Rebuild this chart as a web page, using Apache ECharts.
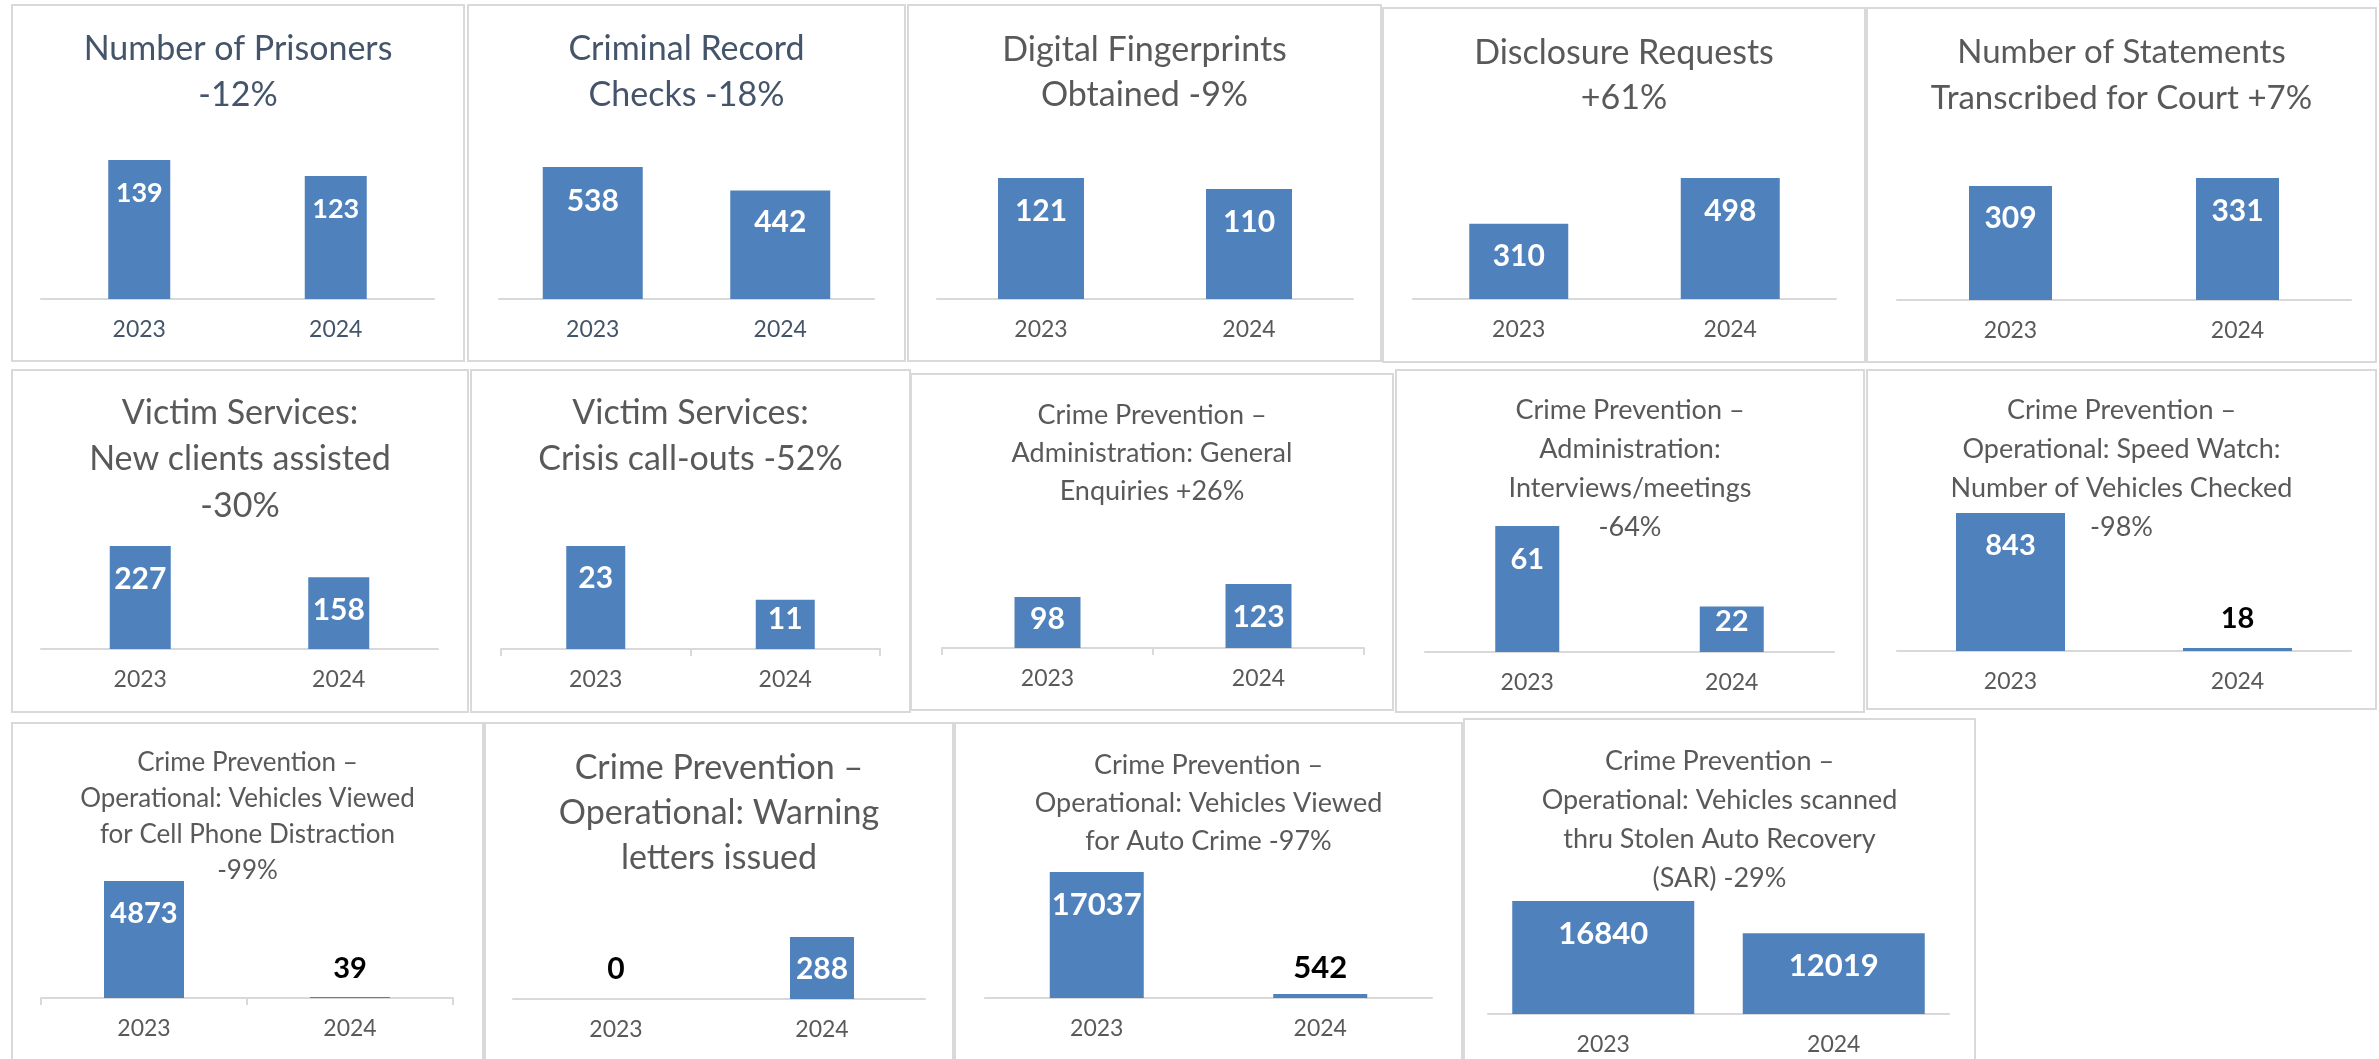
<!DOCTYPE html>
<html>
<head>
<meta charset="utf-8">
<title>2023 vs 2024</title>
<script src="https://cdn.jsdelivr.net/npm/echarts@6/dist/echarts.min.js"></script>
<style>
  html, body { margin: 0; padding: 0; background: #fff; }
  #chart { width: 2379px; height: 1059px; }
</style>
</head>
<body>
<div id="chart"></div>
<script>
const years = ['2023', '2024']

const titles = [
  'Number of Prisoners\n-12%',
  'Criminal Record\nChecks -18%',
  'Digital Fingerprints\nObtained -9%',
  'Disclosure Requests\n+61%',
  'Number of Statements\nTranscribed for Court +7%',
  'Victim Services:\nNew clients assisted\n-30%',
  'Victim Services:\nCrisis call-outs -52%',
  'Crime Prevention –\nAdministration: General\nEnquiries +26%',
  'Crime Prevention –\nAdministration:\nInterviews/meetings\n-64%',
  'Crime Prevention –\nOperational: Speed Watch:\nNumber of Vehicles Checked\n-98%',
  'Crime Prevention –\nOperational: Vehicles Viewed\nfor Cell Phone Distraction\n-99%',
  'Crime Prevention –\nOperational: Warning\nletters issued',
  'Crime Prevention –\nOperational: Vehicles Viewed\nfor Auto Crime -97%',
  'Crime Prevention –\nOperational: Vehicles scanned\nthru Stolen Auto Recovery\n(SAR) -29%'
]

const values2023 = [139, 538, 121, 310, 309, 227, 23, 98, 61, 843, 4873, 0, 17037, 16840]
const values2024 = [123, 442, 110, 498, 331, 158, 11, 123, 22, 18, 39, 288, 542, 12019]

// panel layout (pixels)
// box: frame [x0, y0, x1, y1]; axis: [left, right, baseline y, top of tallest bar]
// title: [first line centre y, line height, font size]; dy: label centre below bar top (negative = above)
const panels = [
  { box: [12, 5, 464, 361], axis: [41, 434, 299, 160], bar: 62, title: [49, 46, 34], dy: [33, 33], size: 27, dark: true },
  { box: [468, 5, 905, 361], axis: [499, 874, 299, 167], bar: 100, title: [49, 46, 34], dy: [34, 32], size: 30, dark: true },
  { box: [908, 5, 1381, 361], axis: [937, 1353, 299, 178], bar: 86, title: [50, 45, 34], dy: [33, 33], size: 30 },
  { box: [1383, 8, 1865, 362], axis: [1413, 1836, 299, 178], bar: 99, title: [53, 45, 34], dy: [33, 33], size: 30 },
  { box: [1867, 8, 2376, 362], axis: [1897, 2351, 300, 178], bar: 83, title: [52, 46, 33], dy: [32, 33], size: 30 },
  { box: [12, 370, 468, 712], axis: [41, 438, 649, 546], bar: 61, title: [413, 46.5, 34], dy: [33, 33], size: 30 },
  { box: [471, 370, 910, 712], axis: [501, 880, 649, 546], bar: 59, title: [413, 46, 34], dy: [32, 20], size: 30, ticks: true },
  { box: [911, 374, 1393, 710], axis: [942, 1364, 648, 584], bar: 66, title: [415, 38.3, 27], dy: [22, 33], size: 30, ticks: true },
  { box: [1396, 370, 1864, 712], axis: [1425, 1834, 652, 526], bar: 64, title: [410.7, 38.7, 27], dy: [34, 15], size: 29 },
  { box: [1867, 370, 2376, 709], axis: [1897, 2351, 651, 513], bar: 109, title: [410.7, 39, 27], dy: [33, -29], size: 29 },
  { box: [12, 723, 483, 1064], axis: [41, 453, 998, 881], bar: 80, title: [762.7, 36, 26], dy: [33, -28], size: 29, ticks: true },
  { box: [485, 723, 953, 1064], axis: [513, 925, 999, 937], bar: 64, title: [768.3, 45, 34], dy: [-30, 32], size: 30 },
  { box: [955, 723, 1462, 1064], axis: [985, 1432, 998, 872], bar: 94, title: [765, 38.3, 27], dy: [33, -26], size: 31 },
  { box: [1464, 719, 1975, 1064], axis: [1488, 1949, 1014, 901], bar: 182, title: [761, 39, 27], dy: [33, 33], size: 31 }
]

const FONT = 'Lato'
const BAR_COLOR = '#4F81BD'
const LINE_COLOR = '#D9D9D9'

function barLabel(dy, size) {
  // white label inside the bar top, black label sitting above a tiny bar
  if (dy >= 0) {
    return { show: true, position: 'insideTop', distance: dy - size / 2, color: '#fff', fontSize: size, fontWeight: 'bold', fontFamily: FONT }
  }
  return { show: true, position: 'top', distance: -dy - size / 2, color: '#000', fontSize: size, fontWeight: 'bold', fontFamily: FONT }
}

const chart = echarts.init(document.getElementById('chart'), null, { renderer: 'canvas' })

const graphics = []
const titleList = []
const grids = []
const xAxes = []
const yAxes = []
const series = []

panels.forEach((p, i) => {
  const [x0, y0, x1, y1] = p.box
  const [aL, aR, aY, aTop] = p.axis
  const textColor = p.dark ? '#44546A' : '#595959'

  graphics.push({
    type: 'rect',
    shape: { x: x0, y: y0, width: x1 - x0, height: y1 - y0 },
    style: { fill: 'transparent', stroke: LINE_COLOR, lineWidth: 2 },
    silent: true
  })

  titleList.push({
    text: titles[i],
    left: (x0 + x1) / 2,
    top: p.title[0] - p.title[1] / 2,
    textAlign: 'center',
    padding: 0,
    textStyle: {
      fontFamily: FONT,
      fontWeight: 'normal',
      fontSize: p.title[2],
      lineHeight: p.title[1],
      color: textColor
    }
  })

  grids.push({ left: aL, top: aTop, width: aR - aL, height: aY - aTop })

  xAxes.push({
    type: 'category',
    gridIndex: i,
    data: years,
    axisLine: { lineStyle: { color: LINE_COLOR, width: 2 } },
    axisTick: { show: !!p.ticks, length: 7, lineStyle: { color: LINE_COLOR, width: 2 } },
    axisLabel: { margin: 19, fontSize: 23, fontFamily: FONT, color: textColor }
  })

  yAxes.push({
    type: 'value',
    gridIndex: i,
    min: 0,
    max: Math.max(values2023[i], values2024[i]),
    show: false
  })

  series.push({
    type: 'bar',
    xAxisIndex: i,
    yAxisIndex: i,
    barWidth: p.bar,
    itemStyle: { color: BAR_COLOR },
    data: [values2023[i], values2024[i]].map((v, j) => ({ value: v, label: barLabel(p.dy[j], p.size) }))
  })
})

chart.setOption({
  animation: false,
  backgroundColor: '#fff',
  title: titleList,
  graphic: graphics,
  grid: grids,
  xAxis: xAxes,
  yAxis: yAxes,
  series: series
})
</script>
</body>
</html>
